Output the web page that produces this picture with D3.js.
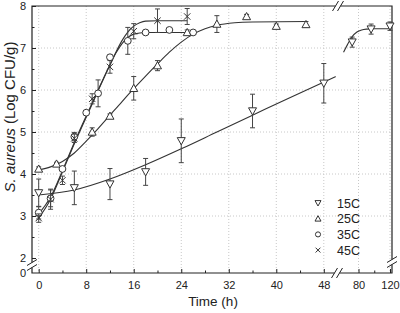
<!DOCTYPE html>
<html>
<head>
<meta charset="utf-8">
<script src="https://cdn.jsdelivr.net/npm/d3@7"></script>
<style>
body { margin: 0; background: #fff; }
svg { display: block; font-family: "Liberation Sans", Arial, sans-serif; }
</style>
</head>
<body>
<svg id="drawing_region"></svg>
<script>
// measured points (time h, log CFU/g, error)
const times15 = [0, 6, 12, 18, 24, 36, 48, 72, 96, 120];
const vals15  = [3.55, 3.67, 3.76, 4.05, 4.79, 5.5, 6.16, 7.14, 7.45, 7.52];
const err15   = [0.33, 0.4, 0.37, 0.32, 0.52, 0.4, 0.47, 0.12, 0.12, 0.1];

const times25 = [0, 3, 9, 12, 16, 20, 25, 30, 35, 40, 45];
const vals25  = [4.12, 4.24, 5.0, 5.38, 6.04, 6.58, 7.37, 7.57, 7.75, 7.52, 7.56];
const err25   = [0.05, 0.04, 0.1, 0.05, 0.28, 0.12, 0.06, 0.2, 0.05, 0.05, 0.07];

const times35 = [0, 2, 4, 6, 8, 10, 12, 15, 18, 22, 26];
const vals35  = [3.08, 3.42, 4.12, 4.89, 5.46, 5.92, 6.78, 7.17, 7.37, 7.43, 7.37];
const err35   = [0.15, 0.2, 0.05, 0.1, 0.05, 0.32, 0.05, 0.32, 0.05, 0.05, 0.05];

const times45 = [0, 2, 4, 6, 9, 12, 16, 20, 25];
const vals45  = [2.95, 3.4, 3.85, 4.85, 5.79, 6.55, 7.4, 7.65, 7.75];
const err45   = [0.1, 0.24, 0.1, 0.1, 0.12, 0.15, 0.18, 0.28, 0.19];

// fitted curves
const fit15aT = [0, 6, 12, 18, 24, 30, 36, 42, 50];
const fit15aV = [3.5, 3.62, 3.88, 4.22, 4.6, 5.0, 5.4, 5.8, 6.32];
const fit15bT = [61, 66, 72, 78, 84, 90, 100, 122];
const fit15bV = [6.9, 7.08, 7.27, 7.38, 7.43, 7.45, 7.46, 7.46];
const fit25T = [0, 2, 4, 6, 8, 10, 12, 14, 16, 18, 20, 22, 24, 26, 28, 30, 33, 36, 45];
const fit25V = [4.1, 4.17, 4.3, 4.5, 4.78, 5.08, 5.4, 5.72, 6.03, 6.33, 6.62, 6.9, 7.14, 7.33, 7.46, 7.54, 7.6, 7.62, 7.63];
const fit35T = [0, 2, 4, 6, 8, 10, 12, 13, 14, 15, 16, 18, 26];
const fit35V = [3.05, 3.45, 4.08, 4.75, 5.38, 6.0, 6.6, 6.88, 7.1, 7.25, 7.33, 7.37, 7.37];
const fit45T = [0, 2, 4, 6, 8, 10, 12, 13, 14, 15, 16, 17, 18, 20, 25];
const fit45V = [2.95, 3.4, 4.05, 4.72, 5.35, 5.98, 6.6, 6.9, 7.17, 7.38, 7.52, 7.6, 7.64, 7.65, 7.65];

const xTicks1 = [0, 8, 16, 24, 32, 40, 48];
const xMinor1 = [4, 12, 20, 28, 36, 44];
const xTicks2 = [80, 120];
const xMinor2 = [100];
const yTicks = [2, 3, 4, 5, 6, 7, 8];
const yMinor = [2.5, 3.5, 4.5, 5.5, 6.5, 7.5];
const legendLabels = ["15C", "25C", "35C", "45C"];

const W = 400, H = 313;
const pLeft = 32, pRight = 392, pTop = 6, pBottom = 273;
const brk = 337;

const svg = d3.select('#drawing_region').attr('width', W).attr('height', H);

const x1 = d3.scaleLinear().domain([0, 48]).range([38.7, 323.8]);
const x2 = d3.scaleLinear().domain([80, 120]).range([358.5, 390]);
const y = d3.scaleLinear().domain([2, 8]).range([258, pTop]);
const yLow = d3.scaleLinear().domain([0, 1]).range([pBottom, pBottom - 42]);

const xs = t => t <= 50 ? x1(t) : x2(t);

// grid
const grid = svg.append('g').attr('stroke', '#c8c8c8').attr('stroke-dasharray', '1,2').attr('stroke-width', 1);
xTicks1.forEach(t => grid.append('line').attr('x1', x1(t)).attr('x2', x1(t)).attr('y1', pTop).attr('y2', pBottom));
xTicks2.forEach(t => grid.append('line').attr('x1', x2(t)).attr('x2', x2(t)).attr('y1', pTop).attr('y2', pBottom));
[3, 4, 5, 6, 7].forEach(v => grid.append('line').attr('x1', pLeft).attr('x2', pRight).attr('y1', y(v)).attr('y2', y(v)));

// axes
const axisColor = '#222';
const fmt = d3.format('d');
const xa1 = svg.append('g').attr('transform', `translate(0,${pBottom})`)
  .call(d3.axisBottom(x1).tickValues(xTicks1).tickFormat(fmt).tickSizeInner(-4).tickSizeOuter(0).tickPadding(8));
const xa2 = svg.append('g').attr('transform', `translate(0,${pBottom})`)
  .call(d3.axisBottom(x2).tickValues(xTicks2).tickFormat(fmt).tickSizeInner(-4).tickSizeOuter(0).tickPadding(8));
const xm1 = svg.append('g').attr('transform', `translate(0,${pBottom})`)
  .call(d3.axisBottom(x1).tickValues(xMinor1).tickSizeInner(-2.5).tickSizeOuter(0).tickFormat(''));
const xm2 = svg.append('g').attr('transform', `translate(0,${pBottom})`)
  .call(d3.axisBottom(x2).tickValues(xMinor2).tickSizeInner(-2.5).tickSizeOuter(0).tickFormat(''));
const ya = svg.append('g').attr('transform', `translate(${pLeft},0)`)
  .call(d3.axisLeft(y).tickValues(yTicks).tickFormat(fmt).tickSizeInner(-4).tickSizeOuter(0).tickPadding(6));
const ym = svg.append('g').attr('transform', `translate(${pLeft},0)`)
  .call(d3.axisLeft(y).tickValues(yMinor).tickSizeInner(-2.5).tickSizeOuter(0).tickFormat(''));
const yl = svg.append('g').attr('transform', `translate(${pLeft},0)`)
  .call(d3.axisLeft(yLow).tickValues([0]).tickFormat(fmt).tickSize(0).tickPadding(6));

[xa1, xa2, xm1, xm2, ya, ym, yl].forEach(g => {
  g.select('.domain').remove();
  g.selectAll('line').attr('stroke', axisColor);
  g.selectAll('text').attr('font-size', 11).attr('fill', '#222')
    .attr('font-family', '"Liberation Sans", Arial, sans-serif');
});

// frame
const frame = svg.append('g').attr('stroke', axisColor).attr('stroke-width', 1.2).attr('fill', 'none');
frame.append('path').attr('d', `M${pLeft},${pTop}V${pBottom}H${pRight}V${pTop}Z`);

// break marks
function breakMark(cx, cy, horiz) {
  const g = svg.append('g');
  if (horiz) {
    g.append('rect').attr('x', cx - 2.5).attr('y', cy - 2).attr('width', 5).attr('height', 4).attr('fill', '#fff');
    [-2.5, 2.5].forEach(o => g.append('line')
      .attr('x1', cx + o - 3).attr('y1', cy + 5).attr('x2', cx + o + 3).attr('y2', cy - 5)
      .attr('stroke', axisColor).attr('stroke-width', 1));
  } else {
    g.append('rect').attr('x', cx - 2).attr('y', cy - 2.5).attr('width', 4).attr('height', 5).attr('fill', '#fff');
    [-2.5, 2.5].forEach(o => g.append('line')
      .attr('x1', cx - 5).attr('y1', cy + o + 3).attr('x2', cx + 5).attr('y2', cy + o - 3)
      .attr('stroke', axisColor).attr('stroke-width', 1));
  }
}
breakMark(brk, pBottom, true);
breakMark(brk + 1, pTop, true);
breakMark(pLeft, 265, false);
breakMark(pRight, 262, false);

// fitted lines
const line = d3.line().x(d => xs(d[0])).y(d => y(d[1])).curve(d3.curveMonotoneX);
const lines = svg.append('g').attr('fill', 'none').attr('stroke', '#333').attr('stroke-width', 1.1);
[[fit15aT, fit15aV], [fit15bT, fit15bV], [fit25T, fit25V], [fit35T, fit35V], [fit45T, fit45V]]
  .forEach(([T, V]) => lines.append('path').attr('d', line(T.map((t, i) => [t, V[i]]))));

// markers
const markerColor = '#333';
function drawMarker(g, kind, cx, cy, s) {
  if (kind === 'down') {
    g.append('path').attr('d', `M${cx - s},${cy - s * 0.8}L${cx + s},${cy - s * 0.8}L${cx},${cy + s}Z`)
      .attr('fill', '#fff').attr('stroke', markerColor);
  } else if (kind === 'up') {
    g.append('path').attr('d', `M${cx - s},${cy + s * 0.8}L${cx + s},${cy + s * 0.8}L${cx},${cy - s}Z`)
      .attr('fill', '#fff').attr('stroke', markerColor);
  } else if (kind === 'circle') {
    g.append('circle').attr('cx', cx).attr('cy', cy).attr('r', s * 0.85)
      .attr('fill', '#fff').attr('stroke', markerColor);
  } else {
    g.append('path').attr('d', `M${cx - s * 0.8},${cy - s * 0.8}L${cx + s * 0.8},${cy + s * 0.8}M${cx - s * 0.8},${cy + s * 0.8}L${cx + s * 0.8},${cy - s * 0.8}`)
      .attr('fill', 'none').attr('stroke', markerColor);
  }
}

const series = [
  { kind: 'down', t: times15, v: vals15, e: err15 },
  { kind: 'up', t: times25, v: vals25, e: err25 },
  { kind: 'circle', t: times35, v: vals35, e: err35 },
  { kind: 'x', t: times45, v: vals45, e: err45 }
];

const marks = svg.append('g');
series.forEach(s => {
  s.t.forEach((t, i) => {
    const cx = xs(t);
    const g = marks.append('g').attr('stroke-width', 1);
    const y0 = y(s.v[i] + s.e[i]), y1 = y(s.v[i] - s.e[i]);
    g.append('line').attr('x1', cx).attr('x2', cx).attr('y1', y0).attr('y2', y1).attr('stroke', '#444');
    [y0, y1].forEach(yy => g.append('line').attr('x1', cx - 2.5).attr('x2', cx + 2.5)
      .attr('y1', yy).attr('y2', yy).attr('stroke', '#444'));
    drawMarker(g, s.kind, cx, y(s.v[i]), 4);
  });
});

// legend
const legend = svg.append('g').attr('transform', 'translate(318,203)');
series.forEach((s, i) => {
  const g = legend.append('g').attr('transform', `translate(0,${i * 15.7})`).attr('stroke-width', 1);
  drawMarker(g, s.kind, 0, 0, 3);
  g.append('text').attr('x', 19).attr('y', 0).attr('dy', '0.36em')
    .attr('font-size', 12.5).attr('fill', '#222').text(legendLabels[i]);
});

// axis titles
svg.append('text').attr('x', 213).attr('y', 306).attr('text-anchor', 'middle')
  .attr('font-size', 13.5).attr('fill', '#222').text('Time (h)');

const yTitle = svg.append('text').attr('transform', 'translate(15,117) rotate(-90)')
  .attr('text-anchor', 'middle').attr('font-size', 15).attr('fill', '#222');
yTitle.append('tspan').attr('font-style', 'italic').text('S. aureus');
yTitle.append('tspan').text(' (Log CFU/g)');
</script>
</body>
</html>
